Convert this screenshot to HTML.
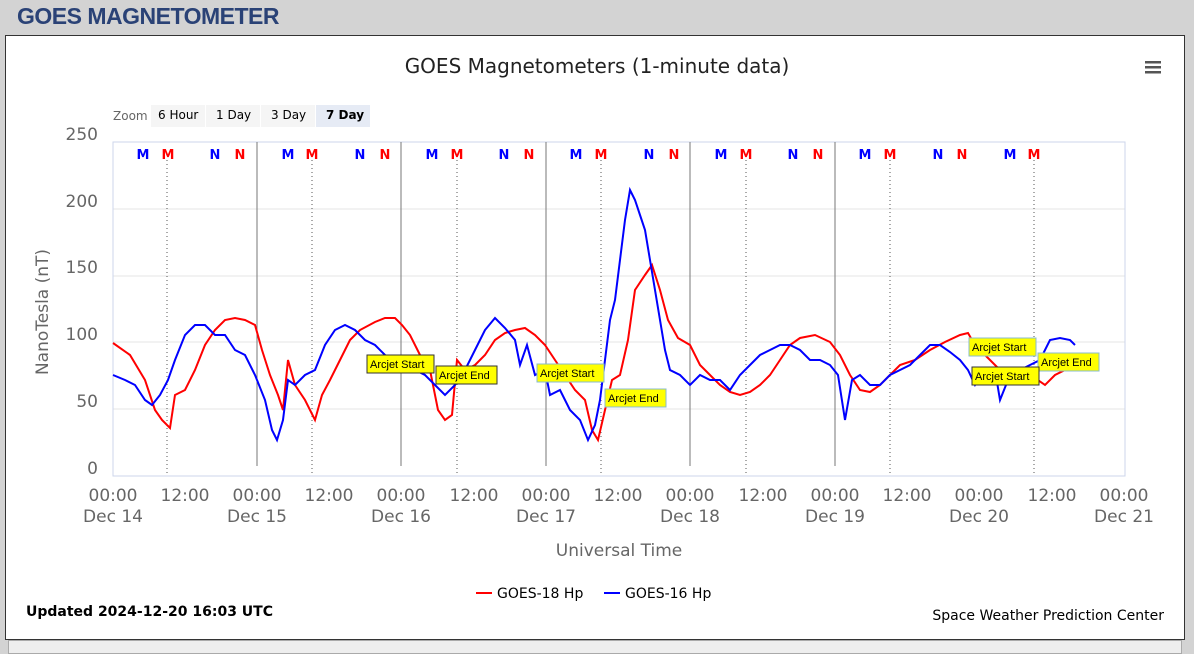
<!DOCTYPE html><html><head><style>
body{margin:0;width:1194px;height:650px;background:#d3d3d3;font-family:"Liberation Sans",sans-serif;overflow:hidden}
.h{position:absolute;left:17px;top:3px;font-size:23px;font-weight:bold;color:#2a4276;letter-spacing:-0.5px}
.box{position:absolute;left:5px;top:35px;width:1178px;height:603px;background:#fff;border:1px solid #333}
.bot{position:absolute;left:8px;top:640px;width:1172px;height:12px;background:#eee;border:1px solid #aaa}
</style></head><body>
<div class="h">GOES MAGNETOMETER</div>
<div class="box"></div>
<div class="bot"></div>
<svg width="1194" height="650" style="position:absolute;left:0;top:0" font-family="DejaVu Sans, sans-serif">
<text x="597" y="73" text-anchor="middle" font-size="20" fill="#222">GOES Magnetometers (1-minute data)</text>
<g fill="#555"><rect x="1145" y="61" width="16" height="2.5"/><rect x="1145" y="66" width="16" height="2.5"/><rect x="1145" y="71" width="16" height="2.5"/></g>
<text x="113" y="120" font-size="12" fill="#666">Zoom</text>
<rect x="151" y="105" width="54" height="22" fill="#f5f5f5"/><text x="158" y="119" font-size="12">6 Hour</text>
<rect x="206" y="105" width="54" height="22" fill="#f5f5f5"/><text x="216" y="119" font-size="12">1 Day</text>
<rect x="261" y="105" width="54" height="22" fill="#f5f5f5"/><text x="271" y="119" font-size="12">3 Day</text>
<rect x="316" y="105" width="54" height="22" fill="#e6ebf5"/><text x="326" y="119" font-size="12" font-weight="bold">7 Day</text>
<g stroke="#e6e6e6"><line x1="113" x2="1125" y1="209" y2="209"/><line x1="113" x2="1125" y1="276" y2="276"/><line x1="113" x2="1125" y1="342" y2="342"/><line x1="113" x2="1125" y1="409" y2="409"/></g>
<rect x="113" y="142" width="1012" height="334" fill="none" stroke="#ccd6eb"/>
<g font-size="17" fill="#666" text-anchor="end"><text x="98" y="140">250</text><text x="98" y="207">200</text><text x="98" y="273">150</text><text x="98" y="340">100</text><text x="98" y="407">50</text><text x="98" y="474">0</text></g>
<text transform="translate(48,312) rotate(-90)" text-anchor="middle" font-size="17" fill="#666">NanoTesla (nT)</text>
<g stroke="#777"><line x1="257" x2="257" y1="142" y2="466"/><line x1="401" x2="401" y1="142" y2="466"/><line x1="546" x2="546" y1="142" y2="466"/><line x1="690" x2="690" y1="142" y2="466"/><line x1="835" x2="835" y1="142" y2="466"/></g>
<g stroke="#555" stroke-dasharray="1,3"><line x1="167" x2="167" y1="160" y2="476"/><line x1="312" x2="312" y1="160" y2="476"/><line x1="457" x2="457" y1="160" y2="476"/><line x1="601" x2="601" y1="160" y2="476"/><line x1="746" x2="746" y1="160" y2="476"/><line x1="890" x2="890" y1="160" y2="476"/><line x1="1034" x2="1034" y1="160" y2="476"/></g>
<g font-size="13" font-weight="bold" text-anchor="middle">
<text x="143" y="159" fill="blue">M</text><text x="168" y="159" fill="red">M</text><text x="215" y="159" fill="blue">N</text><text x="240" y="159" fill="red">N</text>
<text x="288" y="159" fill="blue">M</text><text x="312" y="159" fill="red">M</text><text x="360" y="159" fill="blue">N</text><text x="385" y="159" fill="red">N</text>
<text x="432" y="159" fill="blue">M</text><text x="457" y="159" fill="red">M</text><text x="504" y="159" fill="blue">N</text><text x="529" y="159" fill="red">N</text>
<text x="576" y="159" fill="blue">M</text><text x="601" y="159" fill="red">M</text><text x="649" y="159" fill="blue">N</text><text x="674" y="159" fill="red">N</text>
<text x="721" y="159" fill="blue">M</text><text x="746" y="159" fill="red">M</text><text x="793" y="159" fill="blue">N</text><text x="818" y="159" fill="red">N</text>
<text x="865" y="159" fill="blue">M</text><text x="890" y="159" fill="red">M</text><text x="938" y="159" fill="blue">N</text><text x="962" y="159" fill="red">N</text>
<text x="1010" y="159" fill="blue">M</text><text x="1034" y="159" fill="red">M</text></g>
<polyline fill="none" stroke="red" stroke-width="2" points="113,343 130,355 145,380 155,410 162,420 170,428 175,395 185,390 195,370 205,345 215,330 225,320 235,318 245,320 255,325 262,350 270,375 278,395 283,410 288,360 295,385 305,400 315,420 322,395 330,380 340,360 350,340 360,330 375,322 385,318 395,318 402,325 410,335 420,355 430,370 438,410 445,420 452,415 457,360 465,370 475,365 485,355 495,340 505,333 515,330 525,328 535,335 545,345 555,360 565,375 575,390 585,400 592,430 598,440 605,410 612,380 620,375 628,340 635,290 645,275 652,265 660,290 668,320 678,338 690,345 700,365 710,375 720,385 730,392 740,395 750,392 760,385 770,375 780,360 790,345 800,338 815,335 830,342 840,355 850,375 860,390 870,392 880,385 890,375 900,365 915,360 930,350 945,342 960,335 968,333 975,345 985,355 995,365 1005,375 1015,380 1025,378 1035,378 1045,385 1055,375 1065,370"/>
<polyline fill="none" stroke="blue" stroke-width="2" points="113,375 125,380 135,385 145,400 152,405 160,395 168,380 175,360 185,335 195,325 205,325 215,335 225,335 235,350 245,355 255,375 265,400 272,430 277,440 283,420 288,380 295,385 305,375 315,370 325,345 335,330 345,325 355,330 365,340 375,345 385,355 395,360 405,365 415,370 425,375 435,385 445,395 455,385 465,370 475,350 485,330 495,318 505,328 515,340 520,365 527,345 535,375 545,370 550,395 560,390 570,410 580,420 588,440 595,425 600,400 605,360 610,320 615,300 620,260 625,220 630,190 635,200 640,215 645,230 650,260 655,290 660,320 665,350 670,370 680,375 690,385 700,375 710,380 720,380 730,390 740,375 750,365 760,355 770,350 780,345 790,345 800,350 810,360 820,360 830,365 838,375 845,420 852,380 860,375 870,385 880,385 890,375 900,370 910,365 920,355 930,345 940,345 950,352 960,360 968,370 975,385 985,370 995,370 1000,400 1010,375 1020,370 1030,365 1040,360 1050,340 1060,338 1070,340 1075,345"/>
<g font-size="11" font-family="Liberation Sans, sans-serif">
<rect x="367" y="355" width="67" height="18" fill="#ff0" stroke="#333"/><text x="370" y="368">Arcjet Start</text>
<rect x="436" y="366" width="61" height="18" fill="#ff0" stroke="#333"/><text x="439" y="379">Arcjet End</text>
<rect x="537" y="364" width="67" height="18" fill="#ff0" stroke="#8bc"/><text x="540" y="377">Arcjet Start</text>
<rect x="605" y="389" width="61" height="18" fill="#ff0" stroke="#8bc"/><text x="608" y="402">Arcjet End</text>
<rect x="969" y="338" width="67" height="18" fill="#ff0" stroke="#8bc"/><text x="972" y="351">Arcjet Start</text>
<rect x="1038" y="353" width="61" height="18" fill="#ff0" stroke="#8bc"/><text x="1041" y="366">Arcjet End</text>
<rect x="972" y="367" width="67" height="18" fill="#ff0" stroke="#333"/><text x="975" y="380">Arcjet Start</text>
</g>
<g font-size="17" fill="#666" text-anchor="middle">
<text x="113" y="501">00:00</text><text x="113" y="522">Dec 14</text><text x="185" y="501">12:00</text>
<text x="257" y="501">00:00</text><text x="257" y="522">Dec 15</text><text x="329" y="501">12:00</text>
<text x="401" y="501">00:00</text><text x="401" y="522">Dec 16</text><text x="474" y="501">12:00</text>
<text x="546" y="501">00:00</text><text x="546" y="522">Dec 17</text><text x="618" y="501">12:00</text>
<text x="690" y="501">00:00</text><text x="690" y="522">Dec 18</text><text x="763" y="501">12:00</text>
<text x="835" y="501">00:00</text><text x="835" y="522">Dec 19</text><text x="907" y="501">12:00</text>
<text x="979" y="501">00:00</text><text x="979" y="522">Dec 20</text><text x="1052" y="501">12:00</text>
<text x="1124" y="501">00:00</text><text x="1124" y="522">Dec 21</text>
<text x="619" y="556">Universal Time</text></g>
<line x1="476" x2="492" y1="593" y2="593" stroke="red" stroke-width="2"/><text x="497" y="598" font-size="14">GOES-18 Hp</text>
<line x1="604" x2="620" y1="593" y2="593" stroke="blue" stroke-width="2"/><text x="625" y="598" font-size="14">GOES-16 Hp</text>
<text x="26" y="616" font-size="14" font-weight="bold">Updated 2024-12-20 16:03 UTC</text>
<text x="1164" y="620" font-size="14" text-anchor="end">Space Weather Prediction Center</text>
</svg></body></html>
